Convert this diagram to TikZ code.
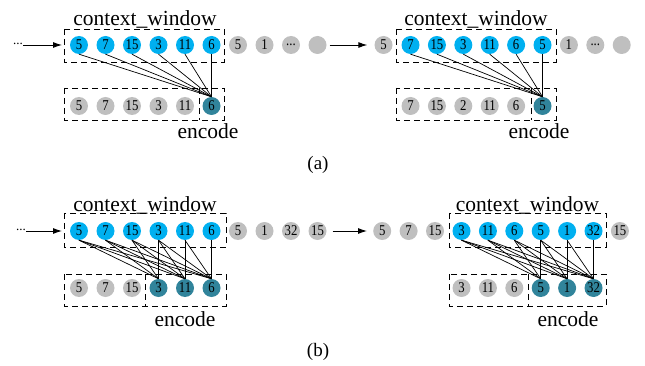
\documentclass[tikz,border=0pt]{standalone}
\usepackage{fontspec}
\setmainfont{Liberation Serif}
\usetikzlibrary{arrows.meta}
\definecolor{cblue}{HTML}{00B0F0}
\definecolor{cteal}{HTML}{31849B}
\definecolor{cgray}{HTML}{BFBFBF}
\newcommand\numtxt[1]{\scalebox{0.85}[1]{#1}}
\newcommand\tdots{...}
\tikzset{
  tok/.style={circle, minimum size=18pt, inner sep=0pt, font=\fontsize{15}{15}\selectfont},
  bluec/.style={tok, fill=cblue},
  grayc/.style={tok, fill=cgray},
  tealc/.style={tok, fill=cteal},
  dashbox/.style={draw, line width=0.9pt, dash pattern=on 6pt off 4pt},
  link/.style={line width=0.7pt},
  arr/.style={line width=0.9pt, -{Latex[length=9pt,width=6pt]}},
  lbl/.style={font=\fontsize{21.5}{21.5}\selectfont, anchor=base, inner sep=0pt},
  captxt/.style={font=\fontsize{19}{19}\selectfont, inner sep=0pt},
  dottxt/.style={font=\fontsize{13}{13}\selectfont, inner sep=0pt}
}
\begin{document}
\begin{tikzpicture}[x=1pt,y=-1pt]
\useasboundingbox (0,0) rectangle (645,366);

% ================= (a) left =================
\foreach \v [count=\i] in {5,7,15,3,11,6}
  \node[bluec] (aLt\i) at ({79+26.5*(\i-1)},45) {\numtxt{\v}};
\foreach \v [count=\i from 7] in {5,1,\tdots,{}}
  \node[grayc] (aLt\i) at ({79+26.5*(\i-1)},45) {\numtxt{\v}};
\foreach \v [count=\i] in {5,7,15,3,11}
  \node[grayc] (aLb\i) at ({79+26.5*(\i-1)},106) {\numtxt{\v}};
\node[tealc] (aLb6) at (211.5,106) {\numtxt{6}};
\foreach \i in {1,...,6} \draw[link] (aLt\i.south) -- (aLb6.north);
\draw[dashbox] (64,29) rectangle (224,62);
\draw[dashbox] (64,88) rectangle (224,120);
\draw[dashbox] (199,88) -- (199,120);
\node[lbl] (aLctx) at (145,26) {context\_window};
\node[lbl] (aLenc) at (208,139) {encode};
\node[dottxt] (aLdots) at (18,44) {\tdots};
\coordinate (aLin) at (62,45);
\draw[arr] (aLdots.east |- aLin) -- (aLin);

% ================= (a) right =================
\node[grayc] (aRt0) at (383.5,45) {\numtxt{5}};
\foreach \v [count=\i] in {7,15,3,11,6,5}
  \node[bluec] (aRt\i) at ({410.5+26.4*(\i-1)},45) {\numtxt{\v}};
\foreach \v [count=\i from 7] in {1,\tdots,{}}
  \node[grayc] (aRt\i) at ({410.5+26.4*(\i-1)},45) {\numtxt{\v}};
\foreach \v [count=\i] in {7,15,2,11,6}
  \node[grayc] (aRb\i) at ({410.5+26.4*(\i-1)},106) {\numtxt{\v}};
\node[tealc] (aRb6) at (542.5,106) {\numtxt{5}};
\foreach \i in {1,...,6} \draw[link] (aRt\i.south) -- (aRb6.north);
\draw[dashbox] (396,29) rectangle (556,62);
\draw[dashbox] (396,88) rectangle (556,120);
\draw[dashbox] (531,88) -- (531,120);
\node[lbl] (aRctx) at (476,26) {context\_window};
\node[lbl] (aRenc) at (539,139) {encode};
\draw[arr, shorten <=3pt, shorten >=7pt] (aLt10.east) -- (aRt0.west);

\node[captxt] (capa) at (318,165) {(a)};

% ================= (b) left =================
\foreach \v [count=\i] in {5,7,15,3,11,6}
  \node[bluec] (bLt\i) at ({79+26.5*(\i-1)},231) {\numtxt{\v}};
\foreach \v [count=\i from 7] in {5,1,32,15}
  \node[grayc] (bLt\i) at ({79+26.5*(\i-1)},231) {\numtxt{\v}};
\foreach \v [count=\i] in {5,7,15}
  \node[grayc] (bLb\i) at ({79+26.5*(\i-1)},288) {\numtxt{\v}};
\foreach \v [count=\i from 4] in {3,11,6}
  \node[tealc] (bLb\i) at ({79+26.5*(\i-1)},288) {\numtxt{\v}};
\foreach \j in {4,5,6}
  \foreach \i in {1,...,\j}
    \draw[link] (bLt\i.south) -- (bLb\j.north);
\draw[dashbox] (64,213) rectangle (226,247);
\draw[dashbox] (64,274) rectangle (226,306);
\draw[dashbox] (145,274) -- (145,306);
\node[lbl] (bLctx) at (145,211.5) {context\_window};
\node[lbl] (bLenc) at (185,326) {encode};
\node[dottxt] (bLdots) at (21,230) {\tdots};
\coordinate (bLin) at (62,231);
\draw[arr] (bLdots.east |- bLin) -- (bLin);

% ================= (b) right =================
\foreach \v [count=\i] in {5,7,15}
  \node[grayc] (bRg\i) at ({382.2+26.4*(\i-1)},231) {\numtxt{\v}};
\foreach \v [count=\i] in {3,11,6,5,1,32}
  \node[bluec] (bRt\i) at ({461.5+26.4*(\i-1)},231) {\numtxt{\v}};
\node[grayc] (bRt7) at (619.9,231) {\numtxt{15}};
\foreach \v [count=\i] in {3,11,6}
  \node[grayc] (bRb\i) at ({461.5+26.4*(\i-1)},288) {\numtxt{\v}};
\foreach \v [count=\i from 4] in {5,1,32}
  \node[tealc] (bRb\i) at ({461.5+26.4*(\i-1)},288) {\numtxt{\v}};
\foreach \j in {4,5,6}
  \foreach \i in {1,...,\j}
    \draw[link] (bRt\i.south) -- (bRb\j.north);
\draw[dashbox] (449,213) rectangle (606,247);
\draw[dashbox] (449,274) rectangle (606,306);
\draw[dashbox] (528,274) -- (528,306);
\node[lbl] (bRctx) at (527.5,211.5) {context\_window};
\node[lbl] (bRenc) at (568,326) {encode};
\draw[arr, shorten <=6pt, shorten >=6pt] (bLt10.east) -- (bRg1.west);

\node[captxt] (capb) at (318,352) {(b)};
\end{tikzpicture}
\end{document}
